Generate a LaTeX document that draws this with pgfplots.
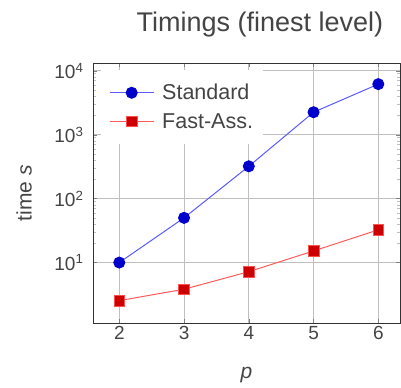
\documentclass[border=0pt]{standalone}
\usepackage{pgfplots}
\pgfplotsset{compat=1.18}
\usepackage{fontspec}
\setmainfont{Liberation Sans}
\definecolor{txt}{HTML}{444444}
\definecolor{bline}{HTML}{5A5AFF}
\definecolor{bmark}{HTML}{0000CC}
\definecolor{rline}{HTML}{FF5A5A}
\definecolor{rmark}{HTML}{CC0000}
\definecolor{rborder}{HTML}{FF5050}
\begin{document}
\begin{tikzpicture}
\begin{axis}[
  name=ax,
  scale only axis,
  width=307pt, height=260pt,
  ymode=log,
  xmin=1.594, xmax=6.335,
  ymin=1.135, ymax=13180,
  xtick={2,3,4,5,6},
  ytick={10,100,1000,10000},
  yticklabels={10\textsuperscript{1},10\textsuperscript{2},10\textsuperscript{3},10\textsuperscript{4}},
  /pgf/number format/assume math mode=true,
  ticklabel style={font=\fontsize{19}{21}\selectfont, text=txt},
  yticklabel style={xshift=-6pt},
  grid=major,
  major grid style={draw=black!25, line width=0.8pt},
  minor tick style={draw=black!25},
  major tick style={draw=black!50},
  axis line style={draw=black!80, line width=0.8pt},
  tick align=inside,
  xlabel={\textit{p}},
  ylabel={time \textit{s}},
  xlabel style={yshift=-20pt, font=\fontsize{21}{23}\selectfont, text=txt},
  every axis y label/.style={at={(rel axis cs:0,0.5)}, xshift=-69pt, rotate=90, anchor=center,
    font=\fontsize{21}{23}\selectfont, text=txt},
  legend style={at={(0.026,0.973)}, anchor=north west, draw=none, fill=white,
    font=\fontsize{21.5}{23}\selectfont, text=txt, row sep=8pt, inner xsep=8pt, inner ysep=12pt,
    /tikz/every odd column/.append style={column sep=6pt}},
  legend cell align=left,
  legend image code/.code={\draw[mark repeat=2,mark phase=2] plot coordinates {(0pt,0pt) (22pt,0pt) (44pt,0pt)};},
]
\addplot[color=bline, line width=1pt, mark=*, mark size=5.5pt,
  mark options={fill=bmark, draw=bmark}] coordinates {
  (2,10) (3,50) (4,320) (5,2240) (6,6160)};
\addlegendentry{Standard}
\addplot[color=rline, line width=1pt, mark=square*, mark size=5.3pt,
  mark options={fill=rmark, draw=rborder, line width=0.6pt}] coordinates {
  (2,2.54) (3,3.83) (4,7.2) (5,15.2) (6,32.5)};
\addlegendentry{Fast-Ass.}
\end{axis}
\node[anchor=base, text=txt, font=\fontsize{27}{29}\selectfont] at ([xshift=167pt, yshift=31pt] ax.north west) {Timings (finest level)};
\pgfresetboundingbox
\path[use as bounding box] ([xshift=-93pt, yshift=-64pt] ax.south west) rectangle ([xshift=1pt, yshift=63pt] ax.north east);
\end{tikzpicture}
\end{document}
